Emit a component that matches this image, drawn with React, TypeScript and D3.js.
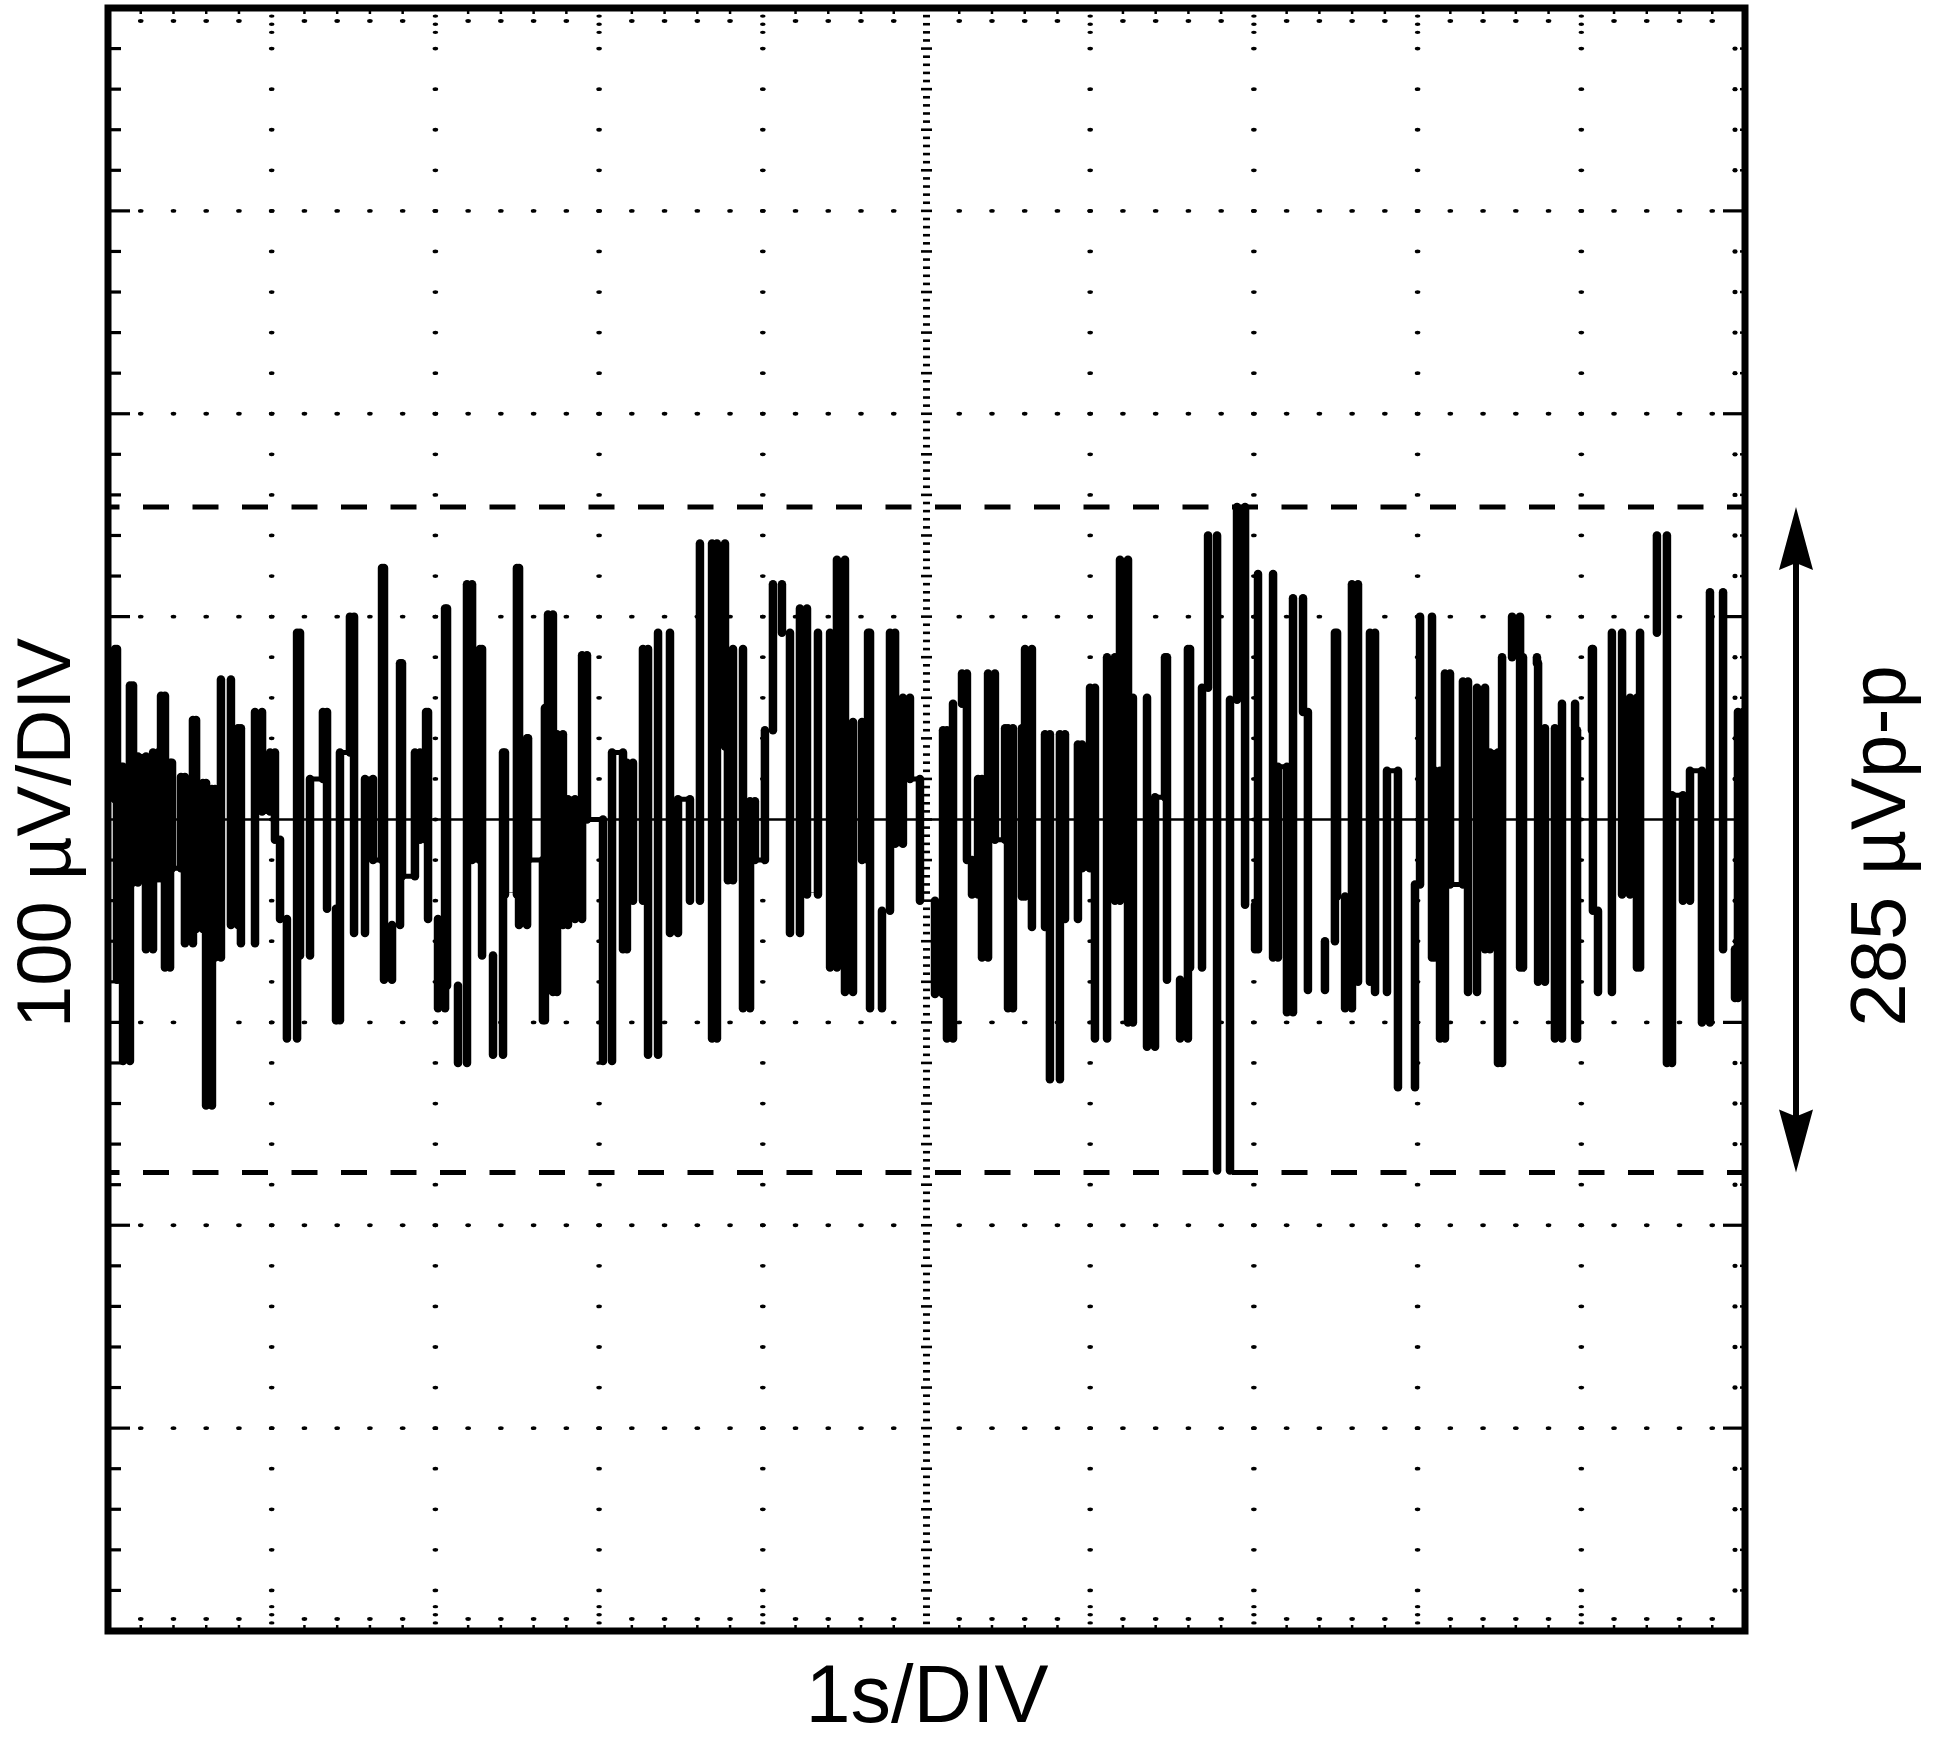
import React from 'react';
import * as d3 from 'd3';

// ---------- data ----------
// time in seconds (1 s / DIV, 10 DIV), amplitude in µV (100 µV / DIV)
const traceTime = [
  0, 0.043, 0.055, 0.079, 0.092, 0.134, 0.153, 0.183, 0.232, 0.275, 0.305, 0.324, 0.348, 0.379, 0.391,
  0.446, 0.47, 0.519, 0.538, 0.58, 0.599, 0.635, 0.654, 0.69, 0.751, 0.794, 0.812, 0.898, 0.941, 0.99,
  1.02, 1.051, 1.093, 1.155, 1.173, 1.234, 1.313, 1.338, 1.393, 1.417, 1.478, 1.503, 1.57, 1.619, 1.674,
  1.686, 1.735, 1.784, 1.796, 1.875, 1.906, 1.943, 1.955, 2.016, 2.059, 2.071, 2.138, 2.193, 2.224, 2.272,
  2.285, 2.352, 2.413, 2.425, 2.498, 2.511,
  2.56, 2.566, 2.657, 2.669, 2.688, 2.718, 2.743, 2.779, 2.81, 2.853, 2.896, 2.926, 3.024, 3.079, 3.146,
  3.17, 3.207, 3.268, 3.299, 3.36, 3.433, 3.482, 3.555, 3.616, 3.69, 3.72, 3.769, 3.787, 3.818, 3.879,
  3.922, 3.952, 4.013, 4.062, 4.117, 4.166, 4.227, 4.27, 4.337, 4.411, 4.453, 4.502, 4.551, 4.606, 4.643,
  4.655, 4.728, 4.777, 4.808, 4.856, 4.899, 4.96,
  5.052, 5.101, 5.125, 5.162, 5.217, 5.247, 5.278, 5.315, 5.339, 5.376, 5.418, 5.48, 5.498, 5.528, 5.583,
  5.602, 5.644, 5.724, 5.754, 5.815, 5.846, 5.925, 5.95, 5.999, 6.029, 6.103, 6.151, 6.182, 6.231, 6.261,
  6.347, 6.396, 6.457, 6.469, 6.549, 6.597, 6.61, 6.683, 6.72, 6.775, 6.854, 6.897, 6.946, 7.007, 7.025,
  7.117, 7.147, 7.202, 7.239, 7.3, 7.33, 7.434, 7.495, 7.508,
  7.557, 7.599, 7.636, 7.709, 7.74, 7.813, 7.88, 7.984, 8.015, 8.088, 8.106, 8.137, 8.167, 8.198, 8.277,
  8.308, 8.363, 8.412, 8.442, 8.491, 8.516, 8.577, 8.626, 8.644, 8.729, 8.736, 8.778, 8.839, 8.882, 8.962,
  8.974, 9.065, 9.071, 9.102, 9.187, 9.249, 9.298, 9.34, 9.359, 9.462, 9.523, 9.554, 9.621, 9.664, 9.737,
  9.786, 9.866, 9.939, 9.957, 9.988,
];
const traceUV = [
  10, 84, -79, 26, -119, 66, -31, 31, -64, 33, -29, 61, -73, 28, -24,
  21, -61, 49, -54, 18, -141, 15, -68, 69, -52, 45, -61, 53, 4, 33,
  -10, -49, -108, 92, -67, 20, 53, -44, -99, 33, 100, -56, 20, -20, 124,
  -79, -52, 77, -28, 33, -10, 53, -49, -93, 104, -82, -120, 116, -20, 84,
  -67, -116, 33, -37, 124, -52,
  40, -20, -99, 55, 101, -85, 42, -52, 10, -49, 81, 0, -119, 33, -64,
  28, -40, 84, -116, 92, -56, 10, -40, 136, -108, 136, 36, -30, 84, -93,
  9, -20, 44, 116, 92, -56, 104, -37, 92, -73, 128, -85, 48, -20, 92,
  -93, -45, 92, -12, 60, 20, -40,
  -86, 44, -108, 57, 72, -20, -37, 20, -68, 72, -10, 45, -93, 45, -38,
  84, -53, 42, -128, 42, -49, 37, -24, 65, -108, 80, -40, 128, -100, 60,
  -112, 11, 80, -79, -108, 84, -73, 65, 140, -173, 59, 154, -42, -64, 121,
  -68, 26, -95, 109, 53, -84, -60, 92, -38,
  -93, 116, -80, 92, -85, 24, -132, -32, 100, -68, 24, -108, 72, -32, 68,
  -85, 65, -64, 33, -120, 80, 100, -73, 80, 77, -80, 45, -108, 57, -108,
  44, 84, -45, -85, 92, -37, 60, -73, 92, 140, -120, 12, -40, 24, -100,
  112, -64, -88, 53, -50,
];
const peakLevelsUV = [154, -174]; // dashed peak markers
const timeDomain = [0, 10];
const voltDomain = [-400, 400];
const xLabel = '1s/DIV';
const yLabel = '100 µV/DIV';
const ppLabel = '285 µVp-p';

// ---------- layout ----------
const W = 1944;
const H = 1741;
const FL = 108, FR = 1745, FT = 8, FB = 1631;
const FONT = '"Liberation Sans", Arial, Helvetica, sans-serif';

export default function App() {
  const x = d3.scaleLinear().domain(timeDomain).range([FL, FR]);
  const y = d3.scaleLinear().domain(voltDomain).range([FB, FT]);

  const majorT = d3.range(1, 10);
  const minorT = d3.range(1, 50).map((i) => i * 0.2).filter((t) => Math.abs(t - Math.round(t)) > 1e-6);
  const majorV = d3.range(-300, 301, 100);
  const minorV = d3.range(-380, 381, 20).filter((v) => v % 100 !== 0);
  const allMinorV = d3.range(-380, 381, 20).filter((v) => Math.abs(v) < 400);
  const allMinorT = d3.range(1, 50).map((i) => i * 0.2);

  const dots: React.ReactNode[] = [];
  majorV.forEach((v) => {
    if (v === 0) return;
    allMinorT.forEach((t, i) => {
      if (Math.abs(t - 5) < 1e-6) return;
      dots.push(<ellipse key={`h${v}-${i}`} cx={x(t)} cy={y(v)} rx={2.8} ry={1.9} fill="#000" />);
    });
  });
  majorT.forEach((t) => {
    if (t === 5) return;
    allMinorV.forEach((v, i) => {
      dots.push(<ellipse key={`v${t}-${i}`} cx={x(t)} cy={y(v)} rx={2.8} ry={1.9} fill="#000" />);
    });
    [1, 2, 3].forEach((k) => {
      dots.push(<ellipse key={`vt${t}-${k}`} cx={x(t)} cy={y(400 - k * 4)} rx={2.8} ry={1.7} fill="#000" />);
      dots.push(<ellipse key={`vb${t}-${k}`} cx={x(t)} cy={y(-400 + k * 4)} rx={2.8} ry={1.7} fill="#000" />);
    });
  });
  minorT.forEach((t, i) => {
    dots.push(<ellipse key={`et${i}`} cx={x(t)} cy={FT + 13} rx={2.8} ry={1.9} fill="#000" />);
    dots.push(<ellipse key={`eb${i}`} cx={x(t)} cy={FB - 12} rx={2.8} ry={1.9} fill="#000" />);
    dots.push(<line key={`ett${i}`} x1={x(t)} x2={x(t)} y1={FT} y2={FT + 6} stroke="#000" strokeWidth={2.5} />);
    dots.push(<line key={`ebt${i}`} x1={x(t)} x2={x(t)} y1={FB} y2={FB - 6} stroke="#000" strokeWidth={2.5} />);
  });
  minorV.forEach((v, i) => {
    dots.push(<line key={`el${i}`} x1={FL} x2={FL + 13} y1={y(v)} y2={y(v)} stroke="#000" strokeWidth={3.2} />);
    dots.push(<ellipse key={`er${i}`} cx={FR - 10} cy={y(v)} rx={2.6} ry={2.2} fill="#000" />);
    dots.push(<line key={`ert${i}`} x1={FR} x2={FR - 5} y1={y(v)} y2={y(v)} stroke="#000" strokeWidth={2.5} />);
  });
  majorV.forEach((v) => {
    if (v === 0) return;
    dots.push(<line key={`elm${v}`} x1={FL} x2={FL + 22} y1={y(v)} y2={y(v)} stroke="#000" strokeWidth={3.2} />);
    dots.push(<line key={`erm${v}`} x1={FR} x2={FR - 22} y1={y(v)} y2={y(v)} stroke="#000" strokeWidth={3.2} />);
  });

  const centerTicks = d3.range(-396, 397, 4).map((v) => (
    <line
      key={`cv${v}`}
      x1={x(5) - (v % 20 === 0 ? 5.5 : 3.5)}
      x2={x(5) + (v % 20 === 0 ? 5.5 : 3.5)}
      y1={y(v)}
      y2={y(v)}
      stroke="#000"
      strokeWidth={2.6}
    />
  ));

  // trace: vertical strokes between successive extremes
  const strokes = traceUV.slice(1).map((v, j) => {
    const i = j + 1;
    const xi = x(traceTime[i]);
    return (
      <line
        key={`s${i}`}
        x1={xi}
        x2={xi}
        y1={y(traceUV[i - 1])}
        y2={y(v)}
        stroke="#000"
        strokeWidth={8.5}
        strokeLinecap="round"
      />
    );
  });
  const stepLine = d3
    .line<number>()
    .x((_, i) => x(traceTime[i]))
    .y((d) => y(d))
    .curve(d3.curveStepAfter);

  const ax = 1796;
  const yTop = y(peakLevelsUV[0]);
  const yBot = y(peakLevelsUV[1]);
  const headL = 63;
  const headW = 17;

  return (
    <svg
      width={W}
      height={H}
      viewBox={`0 0 ${W} ${H}`}
      style={{ position: 'absolute', left: 0, top: 0, background: '#fff' }}
    >
      <defs>
        <clipPath id="band">
          <rect x={FL} y={y(36)} width={FR - FL} height={y(-36) - y(36)} />
        </clipPath>
      </defs>
      <rect x={0} y={0} width={W} height={H} fill="#fff" />
      {dots}
      {centerTicks}
      <line x1={FL} x2={FR} y1={y(0)} y2={y(0)} stroke="#000" strokeWidth={2.5} />
      <path
        d={stepLine(traceUV) || ''}
        fill="none"
        stroke="#000"
        strokeWidth={5}
        clipPath="url(#band)"
      />
      {strokes}
      {peakLevelsUV.map((v) => (
        <line
          key={`pk${v}`}
          x1={FL}
          x2={FR}
          y1={y(v)}
          y2={y(v)}
          stroke="#000"
          strokeWidth={5}
          strokeDasharray="26 23.5"
          strokeDashoffset={14.5}
        />
      ))}
      <rect x={FL} y={FT} width={FR - FL} height={FB - FT} fill="none" stroke="#000" strokeWidth={7} />

      <line x1={ax} x2={ax} y1={yTop + headL - 8} y2={yBot - headL + 8} stroke="#000" strokeWidth={6} />
      <path
        d={`M${ax},${yTop} L${ax + headW},${yTop + headL} L${ax},${yTop + headL - 7} L${ax - headW},${yTop + headL} Z`}
        fill="#000"
      />
      <path
        d={`M${ax},${yBot} L${ax + headW},${yBot - headL} L${ax},${yBot - headL + 7} L${ax - headW},${yBot - headL} Z`}
        fill="#000"
      />

      <text
        transform={`translate(70, 833) rotate(-90)`}
        textAnchor="middle"
        fontFamily={FONT}
        fontSize={76}
        fill="#000"
      >
        {yLabel}
      </text>
      <text
        transform={`translate(1905, 846) rotate(-90)`}
        textAnchor="middle"
        fontFamily={FONT}
        fontSize={78}
        fill="#000"
      >
        {ppLabel}
      </text>
      <text x={927} y={1722} textAnchor="middle" fontFamily={FONT} fontSize={81} fill="#000">
        {xLabel}
      </text>
    </svg>
  );
}
